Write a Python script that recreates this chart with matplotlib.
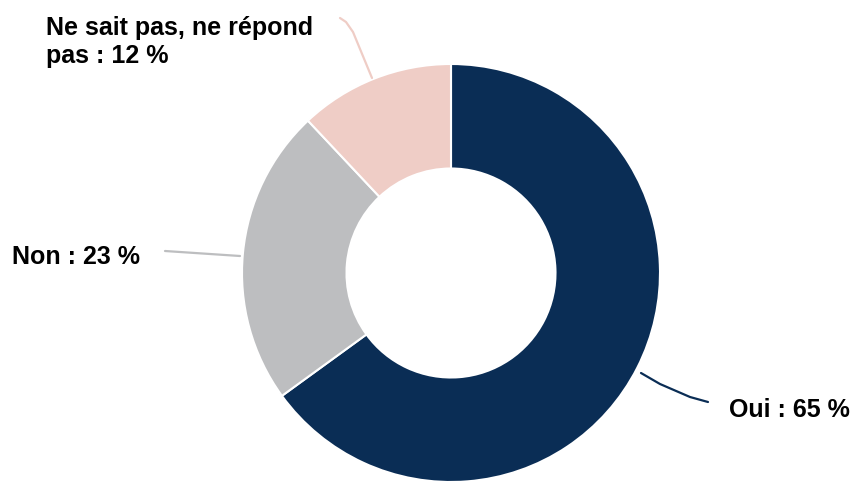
import matplotlib.pyplot as plt

plt.rcParams['font.family'] = ['Liberation Sans', 'DejaVu Sans']

labels = ["Oui", "Non", "Ne sait pas, ne répond\npas"]
values = [65, 23, 12]
colors = ["#0a2d55", "#bdbec0", "#efcdc6"]

W, H = 857, 483
fig = plt.figure(figsize=(W / 100, H / 100), dpi=100)
ax = fig.add_axes([0, 0, 1, 1])

cx, cy, R = 451, H - 273, 209
ax.pie(values, colors=colors, startangle=90, counterclock=False,
       radius=R, center=(cx, cy), frame=True,
       wedgeprops=dict(width=R * 0.5, edgecolor='white', linewidth=1.5))
ax.set_xlim(0, W)
ax.set_ylim(0, H)
ax.axis('off')

# leader lines (pixel coords from top) and label anchors
leaders = [
    [(641, 373), (660, 384), (690, 397), (708, 402)],
    [(165, 251), (240, 256)],
    [(340, 18), (346, 22), (353, 32), (372, 78)],
]
anchors = [(729, 410), (12, 257), (46, 42)]

for lab, val, col, pts, (tx, ty) in zip(labels, values, colors, leaders, anchors):
    xs = [p[0] for p in pts]
    ys = [H - p[1] for p in pts]
    ax.plot(xs, ys, color=col, lw=1.6, solid_capstyle='round')
    ax.text(tx, H - ty, f"{lab} : {val} %", ha='left', va='center',
            fontsize=18, fontweight='bold', linespacing=1.2)

fig.savefig('out.png', dpi=100)
